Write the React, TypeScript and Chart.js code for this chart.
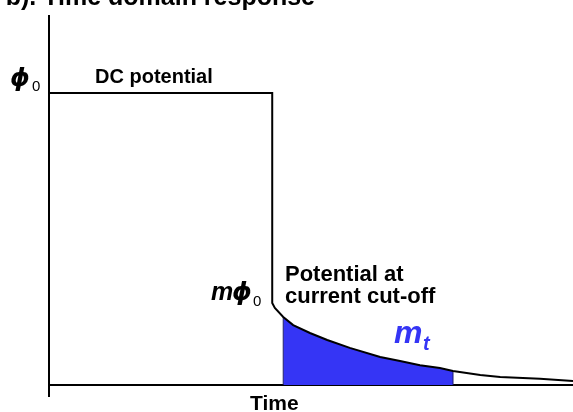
import React, { useEffect, useRef } from "react";
import { Chart, registerables } from "chart.js";

Chart.register(...registerables);

// DC potential (on-time) segment: time, potential (phi0 = 1)
const timeDC = [0, 4.26, 4.26];
const potentialDC = [1, 1, 0.281];

// Decay after current cut-off
const timeDecay = [4.26, 4.31, 4.47, 4.66, 4.98, 5.31, 5.74, 6.32, 6.7, 7.08, 7.46, 7.71, 8.23, 8.61, 9.37, 10];
const potentialDecay = [0.281, 0.264, 0.233, 0.205, 0.178, 0.154, 0.127, 0.096, 0.082, 0.068, 0.058, 0.048, 0.034, 0.027, 0.021, 0.014];

// Integration window for chargeability m_t
const windowStart = 4.47;
const windowEnd = 7.71;

const X_MAX = 10;
const Y_MAX = 1.267;

const BLUE = "#3535f5";

export default function App() {
  const canvasRef = useRef<HTMLCanvasElement | null>(null);

  useEffect(() => {
    const canvas = canvasRef.current;
    if (!canvas) return;

    const linePts = [
      ...timeDC.map((t, i) => ({ x: t, y: potentialDC[i] })),
      ...timeDecay.map((t, i) => ({ x: t, y: potentialDecay[i] })),
    ];
    const windowPts = timeDecay
      .map((t, i) => ({ x: t, y: potentialDecay[i] }))
      .filter((p) => p.x >= windowStart - 1e-9 && p.x <= windowEnd + 1e-9);
    const startY = windowPts[0].y;
    const endY = windowPts[windowPts.length - 1].y;
    const edgePts = [
      { x: windowStart, y: 0 },
      { x: windowStart, y: startY },
      { x: (windowStart + windowEnd) / 2, y: null as any },
      { x: windowEnd, y: 0 },
      { x: windowEnd, y: endY },
    ];

    const font = "'Liberation Sans', Arial, sans-serif";
    const phiFont = "'DejaVu Sans', sans-serif";

    const decorations = {
      id: "decorations",
      beforeDatasetsDraw(chart: any) {
        const { ctx, chartArea } = chart;
        ctx.save();
        ctx.strokeStyle = "#000";
        ctx.lineWidth = 2;
        ctx.beginPath();
        ctx.moveTo(chartArea.left, chartArea.top);
        ctx.lineTo(chartArea.left, chartArea.bottom + 12);
        ctx.moveTo(chartArea.left, chartArea.bottom);
        ctx.lineTo(chartArea.right, chartArea.bottom);
        ctx.stroke();
        ctx.restore();
      },
      afterDraw(chart: any) {
        const { ctx } = chart;
        ctx.save();
        ctx.fillStyle = "#000";
        ctx.textBaseline = "alphabetic";

        // title (cropped at top)
        ctx.font = `bold 25px ${font}`;
        ctx.textAlign = "right";
        ctx.fillText("b). Time domain response", 315, 5);

        ctx.textAlign = "left";
        // phi0
        ctx.font = `italic bold 25px ${phiFont}`;
        ctx.fillText("ϕ", 10, 86);
        ctx.font = `15px ${font}`;
        ctx.fillText("0", 32, 91);

        // DC potential
        ctx.font = `bold 20px ${font}`;
        ctx.fillText("DC potential", 95, 83);

        // m phi0
        ctx.font = `italic bold 25px ${font}`;
        ctx.fillText("m", 211, 300);
        ctx.font = `italic bold 25px ${phiFont}`;
        ctx.fillText("ϕ", 232, 300);
        ctx.font = `15px ${font}`;
        ctx.fillText("0", 253, 306);

        // Potential at current cut-off
        ctx.font = `bold 22px ${font}`;
        ctx.fillText("Potential at", 285, 281);
        ctx.fillText("current cut-off", 285, 303);

        // m_t
        ctx.fillStyle = BLUE;
        ctx.font = `italic bold 32px ${font}`;
        ctx.fillText("m", 394, 343);
        ctx.font = `italic bold 20px ${font}`;
        ctx.fillText("t", 423, 350);

        // x axis title
        ctx.fillStyle = "#000";
        ctx.font = `bold 21px ${font}`;
        ctx.fillText("Time", 250, 410);
        ctx.restore();
      },
    };

    const chart = new Chart(canvas, {
      type: "line",
      data: {
        datasets: [
          {
            data: linePts,
            borderColor: "#000",
            borderWidth: 2,
            pointRadius: 0,
            tension: 0,
            fill: false,
          },
          {
            data: edgePts,
            borderColor: "#1a1a6a",
            borderWidth: 1,
            pointRadius: 0,
            spanGaps: false,
            fill: false,
          },
          {
            data: windowPts,
            borderColor: BLUE,
            borderWidth: 0,
            backgroundColor: BLUE,
            pointRadius: 0,
            tension: 0,
            fill: "origin",
          },
        ],
      },
      options: {
        animation: false,
        responsive: false,
        maintainAspectRatio: false,
        layout: { padding: { left: 49, top: 15, right: 0, bottom: 27 } },
        plugins: { legend: { display: false }, tooltip: { enabled: false }, title: { display: false } },
        scales: {
          x: { type: "linear", min: 0, max: X_MAX, display: false },
          y: { type: "linear", min: 0, max: Y_MAX, display: false },
        },
        clip: false as any,
      },
      plugins: [decorations],
    });

    return () => chart.destroy();
  }, []);

  return (
    <div style={{ position: "fixed", left: 0, top: 0, width: 573, height: 412, background: "#fff" }}>
      <canvas ref={canvasRef} width={573} height={412} style={{ display: "block", width: 573, height: 412 }} />
    </div>
  );
}
